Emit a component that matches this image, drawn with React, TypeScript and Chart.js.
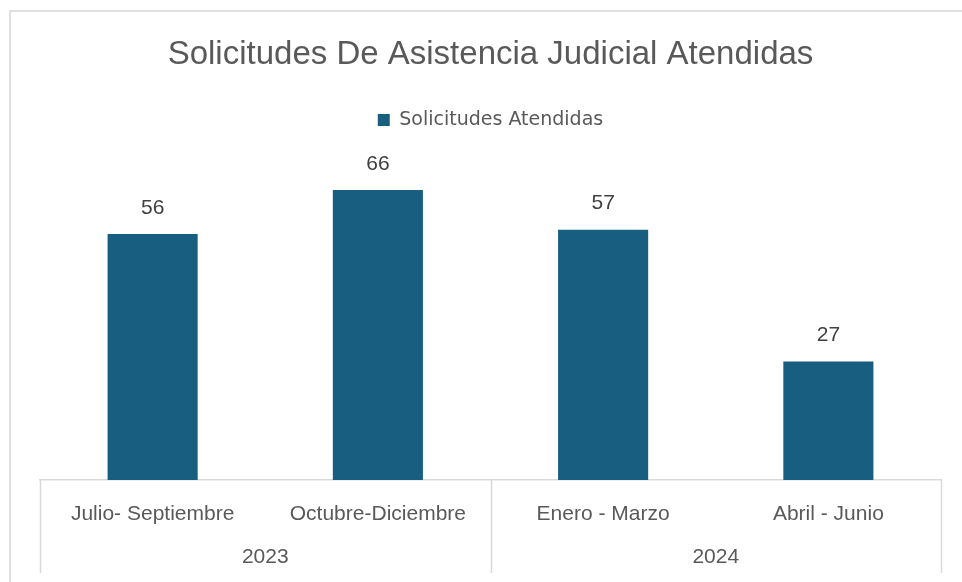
import React, { useEffect, useRef } from "react";
import { Chart, registerables } from "chart.js";

Chart.register(...registerables);

const chartTitle = "Solicitudes De Asistencia Judicial Atendidas";
const seriesName = "Solicitudes Atendidas";
const categories = ["Julio- Septiembre", "Octubre-Diciembre", "Enero - Marzo", "Abril - Junio"];
const values = [56, 66, 57, 27];
const years = ["2023", "2024"];
const yearSpans = [2, 2];

const BAR = "#185E80";
const GRAY = "#595959";
const LINE = "#D9D9D9";
const SANS = "'Liberation Sans', Arial, sans-serif";

const decorPlugin = {
  id: "decor",
  beforeDraw(chart: any) {
    const ctx = chart.ctx;
    ctx.save();
    ctx.strokeStyle = "#E0E0E0";
    ctx.lineWidth = 2;
    ctx.beginPath();
    ctx.moveTo(10, chart.height);
    ctx.lineTo(10, 11);
    ctx.lineTo(chart.width, 11);
    ctx.stroke();
    ctx.restore();
  },
  afterDraw(chart: any) {
    const ctx = chart.ctx;
    const x = chart.scales.x;
    const area = chart.chartArea;
    const half = (x.getPixelForTick(1) - x.getPixelForTick(0)) / 2;
    const bounds: number[] = [x.getPixelForTick(0) - half];
    let idx = 0;
    yearSpans.forEach((s) => {
      idx += s;
      bounds.push(x.getPixelForTick(idx - 1) + half);
    });
    ctx.save();
    ctx.strokeStyle = LINE;
    ctx.lineWidth = 1.5;
    bounds.forEach((b) => {
      ctx.beginPath();
      ctx.moveTo(Math.round(b) + 0.5, area.bottom);
      ctx.lineTo(Math.round(b) + 0.5, area.bottom + 93);
      ctx.stroke();
    });
    ctx.fillStyle = GRAY;
    ctx.font = `21px ${SANS}`;
    ctx.textAlign = "center";
    ctx.textBaseline = "middle";
    years.forEach((yr, i) => {
      ctx.fillText(yr, (bounds[i] + bounds[i + 1]) / 2, area.bottom + 77);
    });
    const meta = chart.getDatasetMeta(0);
    ctx.fillStyle = "#404040";
    meta.data.forEach((bar: any, i: number) => {
      ctx.fillText(String(values[i]), bar.x, bar.y - 26);
    });
    ctx.restore();
  },
};

export default function App() {
  const ref = useRef<HTMLCanvasElement | null>(null);
  useEffect(() => {
    if (!ref.current) return;
    const chart = new Chart(ref.current, {
      type: "bar",
      data: {
        labels: categories,
        datasets: [
          {
            label: seriesName,
            data: values,
            backgroundColor: BAR,
            borderWidth: 0,
            barPercentage: 0.4,
            categoryPercentage: 1,
          },
        ],
      },
      options: {
        responsive: false,
        animation: false,
        devicePixelRatio: 1,
        layout: { padding: { left: 40, right: 21, top: 0, bottom: 0 } },
        plugins: {
          tooltip: { enabled: false },
          title: {
            display: true,
            text: chartTitle,
            color: GRAY,
            font: { family: SANS, size: 33, weight: "normal", lineHeight: 1.2 },
            padding: { top: 35, bottom: 15 },
          },
          legend: {
            display: true,
            position: "top",
            labels: {
              color: GRAY,
              boxWidth: 12,
              boxHeight: 12,
              padding: 21,
              font: { family: "'DejaVu Sans', sans-serif", size: 19 },
            },
          },
        },
        scales: {
          x: {
            grid: { display: true, color: "rgba(0,0,0,0)", drawTicks: false },
            border: { display: true, color: LINE, width: 1.5 },
            ticks: {
              color: GRAY,
              font: { family: SANS, size: 21 },
              padding: 22,
              maxRotation: 0,
              autoSkip: false,
            },
            afterFit: (s: any) => {
              s.height = 102;
            },
          },
          y: {
            display: false,
            min: 0,
            max: 77.5,
          },
        },
      },
      plugins: [decorPlugin],
    });
    return () => chart.destroy();
  }, []);
  return (
    <div style={{ position: "fixed", left: 0, top: 0, width: 962, height: 582, background: "#fff" }}>
      <canvas ref={ref} width={962} height={582} style={{ width: 962, height: 582, display: "block" }} />
    </div>
  );
}
